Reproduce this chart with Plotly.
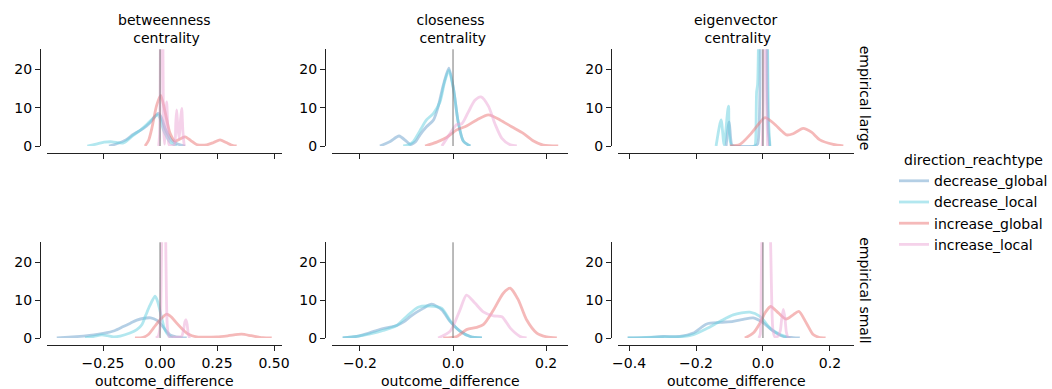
import plotly.graph_objects as go

# ---------------- data ----------------
METRICS = ["betweenness", "closeness", "eigenvector"]
METRIC_TITLES = ["betweenness<br> centrality", "closeness<br> centrality", "eigenvector<br> centrality"]
NETWORKS = ["empirical large", "empirical small"]
SERIES = ["decrease_global", "decrease_local", "increase_global", "increase_local"]

BETWEENNESS_TICKS = [-0.25, 0.0, 0.25, 0.5]
CLOSENESS_TICKS = [-0.2, 0.0, 0.2]
EIGENVECTOR_TICKS = [-0.4, -0.2, 0.0, 0.2]
DENSITY_TICKS = [0, 10, 20]
REFERENCE_X = 0.0

# --- empirical large / betweenness
bl_dg_x = [-0.224, -0.19, -0.15, -0.118, -0.073, -0.045, -0.029, -0.015, -0.007, 0.005, 0.022, 0.037, 0.051, 0.07, 0.088, 0.11]
bl_dg_y = [0, 0.6, 1.6, 3.0, 4.6, 6.0, 7.2, 8.2, 8.5, 7.5, 4.6, 2.8, 1.5, 0.7, 0.3, 0]
bl_dl_x = [-0.319, -0.28, -0.245, -0.21, -0.161, -0.118, -0.085, -0.055, -0.03, -0.012, 0.0, 0.015, 0.03, 0.044, 0.073]
bl_dl_y = [0, 0.5, 1.0, 1.1, 0.8, 2.8, 4.2, 5.8, 7.3, 8.1, 7.2, 4.2, 2.3, 1.0, 0]
bl_ig_x = [-0.066, -0.05, -0.036, -0.015, 0.003, 0.022, 0.044, 0.066, 0.09, 0.11, 0.135, 0.16, 0.205, 0.235, 0.263, 0.29, 0.32, 0.336]
bl_ig_y = [0, 1.5, 4.6, 10.6, 13.2, 8.9, 3.3, 1.3, 1.9, 2.4, 1.4, 0.4, 0.3, 0.9, 1.6, 0.9, 0.1, 0]
bl_il_x = [-0.006, -0.002, 0.002, 0.007, 0.012, 0.016, 0.02, 0.024, 0.029, 0.034, 0.04, 0.055, 0.064, 0.069, 0.073, 0.078, 0.084, 0.09, 0.095, 0.1, 0.106]
bl_il_y = [0, 3, 30, 45, 30, 4, 0.5, 5, 11.5, 5, 0.3, 0.1, 0.5, 6, 9.4, 5, 2, 7, 9.8, 4, 0]

# --- empirical large / closeness
cl_dg_x = [-0.157, -0.135, -0.116, -0.1, -0.092, -0.08, -0.071, -0.057, -0.042, -0.032, -0.021, -0.009, 0.001, 0.011, 0.022, 0.037]
cl_dg_y = [0, 1.2, 2.6, 1.2, 0.4, 1.2, 2.9, 5.0, 6.8, 10.2, 15.8, 20.3, 15.0, 6.3, 1.3, 0]
cl_dl_x = [-0.107, -0.095, -0.085, -0.071, -0.057, -0.042, -0.028, -0.018, -0.009, 0.001, 0.011, 0.022, 0.037]
cl_dl_y = [0, 0.3, 1.2, 4.0, 6.8, 8.5, 11.5, 16.7, 19.7, 14.8, 6.3, 1.3, 0]
cl_ig_x = [-0.060, -0.035, -0.014, 0.008, 0.029, 0.051, 0.076, 0.101, 0.126, 0.151, 0.173, 0.194, 0.226]
cl_ig_y = [0, 1.0, 2.2, 4.2, 5.2, 6.8, 8.1, 6.8, 5.0, 3.3, 1.3, 0.2, 0]
cl_il_x = [-0.024, -0.006, 0.008, 0.019, 0.033, 0.047, 0.060, 0.076, 0.09, 0.105, 0.123, 0.137]
cl_il_y = [0, 3.3, 5.6, 5.8, 8.9, 11.9, 12.8, 10.4, 5.8, 2.0, 0.3, 0]

# --- empirical large / eigenvector
el_dg_x = [-0.11, -0.101, -0.093, -0.085, -0.025, -0.016, -0.012, -0.009, -0.006, 0.002, 0.010, 0.013, 0.016, 0.020]
el_dg_y = [0, 6.3, 0.3, 0, 0, 0.5, 4, 15, 60, 120, 60, 15, 4, 0]
el_dl_x = [-0.140, -0.125, -0.116, -0.103, -0.093, -0.025, -0.022, -0.019, -0.016, -0.013, -0.010, 0.0, 0.010, 0.014, 0.017, 0.021]
el_dl_y = [0, 6.8, 0.3, 10.4, 0, 0, 1, 14, 16, 30, 70, 120, 70, 25, 6, 0]
el_ig_x = [-0.099, -0.069, -0.039, -0.014, 0.006, 0.031, 0.056, 0.07, 0.09, 0.12, 0.145, 0.17, 0.21, 0.24]
el_ig_y = [0, 0.4, 2.9, 5.6, 7.4, 6.0, 3.9, 2.9, 3.2, 4.6, 3.6, 1.6, 0.4, 0]
el_il_x = [-0.002, 0.001, 0.003, 0.006, 0.009, 0.011, 0.014]
el_il_y = [0, 12, 40, 100, 40, 12, 0]

# --- empirical small / betweenness
bs_dg_x = [-0.453, -0.40, -0.336, -0.29, -0.249, -0.2, -0.161, -0.13, -0.102, -0.07, -0.041, -0.015, 0.007, 0.025, 0.044, 0.07, 0.095, 0.117]
bs_dg_y = [0, 0.2, 0.5, 0.8, 1.2, 1.9, 3.0, 3.9, 4.7, 5.2, 5.3, 4.7, 3.4, 2.0, 0.8, 0.3, 0.1, 0]
bs_dl_x = [-0.329, -0.29, -0.256, -0.23, -0.205, -0.175, -0.132, -0.102, -0.08, -0.062, -0.045, -0.022, -0.01, 0.007, 0.018, 0.029, 0.045, 0.058]
bs_dl_y = [0, 0.4, 0.8, 0.6, 0.3, 0.5, 1.3, 2.2, 3.5, 6.1, 8.5, 11.0, 9.5, 5.3, 2.7, 1.3, 0.3, 0]
bs_ig_x = [-0.110, -0.073, -0.05, -0.029, 0.0, 0.029, 0.05, 0.073, 0.095, 0.117, 0.14, 0.161, 0.2, 0.25, 0.3, 0.358, 0.4, 0.45, 0.49]
bs_ig_y = [0, 0.2, 1.0, 2.6, 4.8, 6.3, 5.5, 3.9, 2.5, 1.3, 0.6, 0.3, 0.2, 0.3, 0.6, 1.0, 0.6, 0.1, 0]
bs_il_x = [-0.018, -0.008, 0.0, 0.006, 0.012, 0.016, 0.021, 0.026, 0.032, 0.04, 0.06, 0.08, 0.095, 0.104, 0.109, 0.114, 0.119, 0.124, 0.13]
bs_il_y = [0, 0.5, 3, 20, 45, 50, 45, 20, 3, 0.3, 0.2, 0.2, 0.5, 2.5, 4.2, 4.8, 3.5, 1, 0]

# --- empirical small / closeness
cs_dg_x = [-0.237, -0.207, -0.178, -0.150, -0.121, -0.105, -0.092, -0.078, -0.064, -0.046, -0.024, -0.006, 0.015, 0.037, 0.062]
cs_dg_y = [0, 0.4, 1.4, 2.5, 3.3, 4.3, 5.6, 6.8, 7.8, 8.9, 7.4, 4.3, 1.8, 0.4, 0]
cs_dl_x = [-0.237, -0.207, -0.178, -0.150, -0.121, -0.096, -0.075, -0.049, -0.024, -0.006, 0.015, 0.037, 0.062]
cs_dl_y = [0, 0.4, 1.1, 2.0, 3.3, 6.1, 8.1, 8.4, 7.8, 4.5, 1.8, 0.4, 0]
cs_ig_x = [-0.021, 0.008, 0.029, 0.051, 0.065, 0.087, 0.108, 0.123, 0.140, 0.158, 0.180, 0.201, 0.223]
cs_ig_y = [0, 0.4, 2.2, 2.8, 3.5, 7.4, 11.8, 13.1, 10.1, 4.8, 1.3, 0.3, 0]
cs_il_x = [-0.032, -0.006, 0.015, 0.029, 0.047, 0.065, 0.087, 0.105, 0.123, 0.144, 0.158]
cs_il_y = [0, 1.8, 7.4, 11.3, 9.2, 6.9, 5.8, 5.6, 2.6, 0.4, 0]

# --- empirical small / eigenvector
es_dg_x = [-0.404, -0.347, -0.298, -0.248, -0.208, -0.168, -0.128, -0.089, -0.059, -0.029, 0.001, 0.031, 0.061, 0.09, 0.11]
es_dg_y = [0, 0.1, 0.4, 0.4, 1.3, 3.7, 4.1, 4.4, 4.9, 5.3, 4.0, 1.8, 0.4, 0.1, 0]
es_dl_x = [-0.404, -0.3, -0.248, -0.208, -0.168, -0.128, -0.089, -0.039, -0.009, 0.021, 0.051, 0.081]
es_dl_y = [0, 0.3, 0.3, 0.9, 2.5, 4.4, 6.1, 6.8, 5.7, 2.6, 0.9, 0]
es_ig_x = [-0.054, -0.029, -0.009, 0.006, 0.023, 0.046, 0.069, 0.09, 0.107, 0.13, 0.150, 0.167, 0.187]
es_ig_y = [0, 1.3, 3.9, 6.6, 8.3, 6.6, 5.0, 6.1, 7.0, 3.9, 0.9, 0.2, 0]
es_il_x = [-0.012, -0.008, -0.005, -0.002, 0.004, 0.010, 0.016, 0.021, 0.025, 0.030, 0.036, 0.045, 0.052, 0.056, 0.061, 0.066, 0.07, 0.075, 0.082]
es_il_y = [0, 1, 15, 35, 55, 60, 55, 35, 15, 2, 0.3, 0.5, 2, 5, 7.5, 5, 1.5, 0.2, 0]

# table built from the named arrays: (row, col) -> list of (x, y) per series
PANELS = {
    (0, 0): [(bl_dg_x, bl_dg_y), (bl_dl_x, bl_dl_y), (bl_ig_x, bl_ig_y), (bl_il_x, bl_il_y)],
    (0, 1): [(cl_dg_x, cl_dg_y), (cl_dl_x, cl_dl_y), (cl_ig_x, cl_ig_y), (cl_il_x, cl_il_y)],
    (0, 2): [(el_dg_x, el_dg_y), (el_dl_x, el_dl_y), (el_ig_x, el_ig_y), (el_il_x, el_il_y)],
    (1, 0): [(bs_dg_x, bs_dg_y), (bs_dl_x, bs_dl_y), (bs_ig_x, bs_ig_y), (bs_il_x, bs_il_y)],
    (1, 1): [(cs_dg_x, cs_dg_y), (cs_dl_x, cs_dl_y), (cs_ig_x, cs_ig_y), (cs_il_x, cs_il_y)],
    (1, 2): [(es_dg_x, es_dg_y), (es_dl_x, es_dl_y), (es_ig_x, es_ig_y), (es_il_x, es_il_y)],
}
COL_TICKS = [BETWEENNESS_TICKS, CLOSENESS_TICKS, EIGENVECTOR_TICKS]

# ---------------- style ----------------
W, H = 1052, 389
FONT = "DejaVu Sans"
FS = 14
COLORS = ["rgba(106,159,204,0.5)", "rgba(101,207,223,0.5)", "rgba(235,115,115,0.5)", "rgba(235,165,213,0.5)"]
COL_PX = [(47, 282), (332, 568), (618, 854)]
ROW_PX = [(49.3, 146), (242.3, 338)]
COL_RANGE = [(-0.496, 0.535), (-0.260, 0.247), (-0.433, 0.272)]
COL_FMT = [".2f", ".1f", ".1f"]
Y_RANGE = [0, 25.2]
OFFSET = 7

fig = go.Figure()
layout = {}
for r in range(2):
    for c in range(3):
        k = r * 3 + c + 1
        sx = "" if k == 1 else str(k)
        for s, (xs, ys) in enumerate(PANELS[(r, c)]):
            fig.add_trace(go.Scatter(
                x=xs, y=ys, mode="lines", name=SERIES[s], legendgroup=SERIES[s],
                showlegend=(k == 1), xaxis="x" + sx, yaxis="y" + sx,
                line=dict(color=COLORS[s], width=2.8, shape="spline", smoothing=0.7),
                hoverinfo="skip"))
        l, rr = COL_PX[c]
        t, b = ROW_PX[r]
        layout["xaxis" + sx] = dict(
            domain=[l / W, rr / W], range=list(COL_RANGE[c]), anchor="free",
            position=1 - (b + OFFSET) / H, showline=True, linecolor="#222", linewidth=1,
            ticks="outside", ticklen=5, tickwidth=1, tickcolor="#222",
            tickvals=COL_TICKS[c], tickformat=COL_FMT[c], showticklabels=(r == 1),
            showgrid=False, zeroline=False, automargin=False,
            tickfont=dict(family=FONT, size=FS, color="black"))
        layout["yaxis" + sx] = dict(
            domain=[1 - b / H, 1 - t / H], range=Y_RANGE, anchor="free",
            position=(l - OFFSET) / W, showline=True, linecolor="#222", linewidth=1,
            ticks="outside", ticklen=5, tickwidth=1, tickcolor="#222",
            tickvals=DENSITY_TICKS, showgrid=False, zeroline=False, automargin=False,
            tickfont=dict(family=FONT, size=FS, color="black"))
        fig.add_shape(type="line", xref="x" + sx, yref="y" + sx + " domain",
                      x0=REFERENCE_X, x1=REFERENCE_X, y0=0, y1=1,
                      line=dict(color="#777", width=1), layer="above")

annotations = []
for c in range(3):
    l, rr = COL_PX[c]
    annotations.append(dict(text=METRIC_TITLES[c], x=(l + rr) / 2 / W, y=1 - 28.5 / H,
                            xref="paper", yref="paper", showarrow=False,
                            xanchor="center", yanchor="middle",
                            font=dict(family=FONT, size=FS, color="black")))
    annotations.append(dict(text="outcome_difference", x=(l + rr) / 2 / W, y=1 - 381 / H,
                            xref="paper", yref="paper", showarrow=False,
                            xanchor="center", yanchor="middle",
                            font=dict(family=FONT, size=FS, color="black")))
for r in range(2):
    t, b = ROW_PX[r]
    annotations.append(dict(text=NETWORKS[r], x=865 / W, y=1 - (t + b) / 2 / H,
                            xref="paper", yref="paper", showarrow=False, textangle=90,
                            xanchor="center", yanchor="middle",
                            font=dict(family=FONT, size=FS, color="black")))

fig.update_layout(
    template="none",
    width=W, height=H, margin=dict(l=0, r=0, t=0, b=0, autoexpand=False),
    paper_bgcolor="white", plot_bgcolor="white",
    font=dict(family=FONT, size=FS, color="black"),
    annotations=annotations,
    legend=dict(x=894 / W, y=1 - 147 / H, xanchor="left", yanchor="top",
                title=dict(text="direction_reachtype", side="top center",
                           font=dict(family=FONT, size=FS)),
                font=dict(family=FONT, size=FS), bgcolor="rgba(0,0,0,0)",
                borderwidth=0, tracegroupgap=0),
    **layout)

fig.write_html(
    "out.html",
    config={"displayModeBar": False},
    post_script="document.documentElement.style.margin='0';document.body.style.margin='0';"
                "document.documentElement.style.overflow='hidden';document.body.style.overflow='hidden';")
